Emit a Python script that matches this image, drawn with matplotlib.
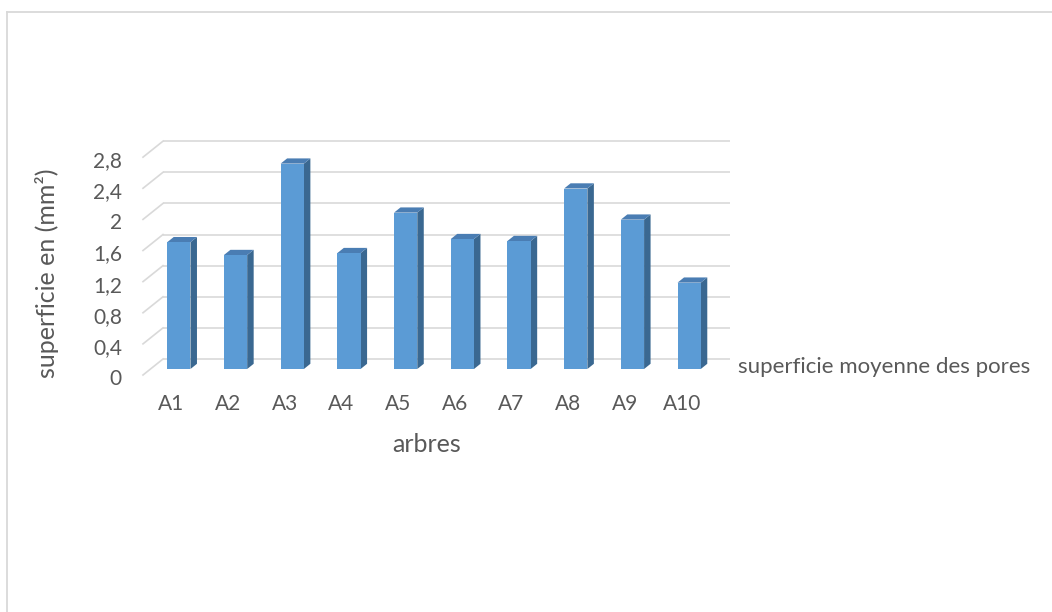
import matplotlib
matplotlib.use("Agg")
import matplotlib.pyplot as plt
from matplotlib.patches import Polygon, Rectangle
from matplotlib.lines import Line2D

# data
arbres = ["A1", "A2", "A3", "A4", "A5", "A6", "A7", "A8", "A9", "A10"]
superficie = [1.63, 1.465, 2.64, 1.49, 2.01, 1.67, 1.645, 2.32, 1.92, 1.11]
y_ticks = [0, 0.4, 0.8, 1.2, 1.6, 2.0, 2.4, 2.8]
y_tick_labels = ["0", "0,4", "0,8", "1,2", "1,6", "2", "2,4", "2,8"]

W, H = 1052, 612
SLOT_PX = 56.7      # pixels per category
UNIT_PX = 77.8      # pixels per value unit
DEPTH_PX = (20, 16)  # oblique depth vector (right, up)

FRONT = "#5B9BD5"
SIDE = "#3A6891"
TOP = "#4A7DB3"
GRID = "#D9D9D9"
TEXT = "#595959"

plt.rcParams["font.family"] = ["Lato", "DejaVu Sans"]

fig = plt.figure(figsize=(W / 100, H / 100), dpi=100)

# axes placed so that the front floor starts at (143, 375) px
x0_px, y0_px = 143, 375
x1_px, y1_px = 733, 141
ax = fig.add_axes([x0_px / W, 1 - y0_px / H, (x1_px - x0_px) / W, (y0_px - y1_px) / H])
ax.set_xlim(-0.5, -0.5 + (x1_px - x0_px) / SLOT_PX)
ax.set_ylim(0, (y0_px - y1_px) / UNIT_PX)
ax.axis("off")

ddx = DEPTH_PX[0] / SLOT_PX
ddy = DEPTH_PX[1] / UNIT_PX
n = len(arbres)

# back wall gridlines and left wall diagonals
for v in y_ticks:
    ax.plot([-0.5 + ddx, n - 0.5 + ddx], [v + ddy, v + ddy], color=GRID, lw=1.2,
            solid_capstyle="butt", clip_on=False, zorder=1)
    ax.plot([-0.5, -0.5 + ddx], [v, v + ddy], color=GRID, lw=1.2, clip_on=False, zorder=1)

# 3d-looking columns
bw = 0.41
f, b = 0.375, 0.70
for i, v in enumerate(superficie):
    xl = i - bw / 2 + f * ddx
    xr = xl + bw
    yb = f * ddy
    ox, oy = (b - f) * ddx, (b - f) * ddy
    ax.add_patch(Polygon([(xr, yb), (xr + ox, yb + oy), (xr + ox, yb + oy + v), (xr, yb + v)],
                         closed=True, facecolor=SIDE, edgecolor="none", zorder=3, clip_on=False))
    ax.add_patch(Polygon([(xl, yb + v), (xr, yb + v), (xr + ox, yb + v + oy), (xl + ox, yb + v + oy)],
                         closed=True, facecolor=TOP, edgecolor="none", zorder=3, clip_on=False))
    ax.add_patch(Rectangle((xl, yb), bw, v, facecolor=FRONT, edgecolor="none", zorder=4, clip_on=False))

fs_tick = 15
fs_title = 18
fs_leg = 16
# value axis labels
for v, lab in zip(y_ticks, y_tick_labels):
    ax.annotate(lab, (-0.5, v), xytext=(-21, -4), textcoords="offset pixels",
                ha="right", va="center", fontsize=fs_tick, color=TEXT, annotation_clip=False)

# category labels
for i, lab in enumerate(arbres):
    ax.annotate(lab, (i, 0), xytext=(0, -29), textcoords="offset pixels",
                ha="center", va="center", fontsize=fs_tick, color=TEXT, annotation_clip=False)

ax.annotate("arbres", ((n - 1) / 2, 0), xytext=(0, -69), textcoords="offset pixels",
            ha="center", va="center", fontsize=fs_title, color=TEXT, annotation_clip=False)
ax.annotate("superficie en (mm²)", (-0.5, 1.31), xytext=(-96, 0), textcoords="offset pixels",
            ha="center", va="center", rotation=90, fontsize=fs_title, color=TEXT,
            annotation_clip=False)

# legend entry (text only)
fig.text(738 / W, 1 - 367 / H, "superficie moyenne des pores", ha="left", va="center",
         fontsize=fs_leg, color=TEXT)

# chart area border (top and left edges visible)
fig.add_artist(Line2D([7 / W, 1.0], [1 - 11.5 / H, 1 - 11.5 / H], color=GRID, lw=1.3))
fig.add_artist(Line2D([7 / W, 7 / W], [0, 1 - 11.5 / H], color=GRID, lw=1.3))

fig.savefig("out.png", dpi=100, facecolor="white")
